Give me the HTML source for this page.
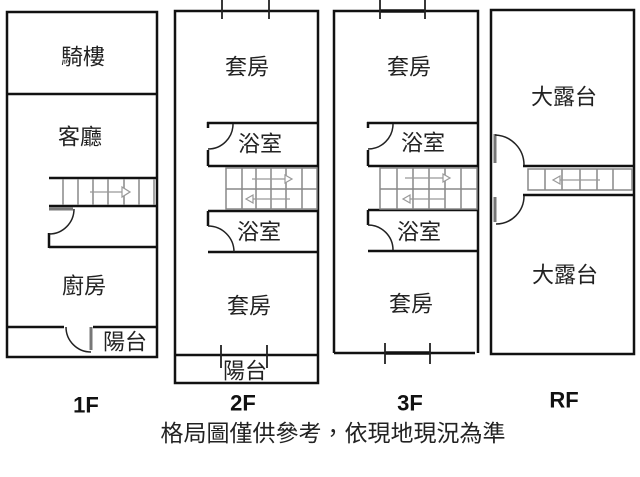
<!DOCTYPE html>
<html><head><meta charset="utf-8"><style>
html,body{margin:0;padding:0;background:#fff;}
svg{display:block;}
.t{font-family:"Liberation Sans","Noto Sans CJK TC",sans-serif;font-size:22px;fill:#222;}
.b{font-family:"Liberation Sans",sans-serif;font-weight:bold;font-size:22px;fill:#111;}
.c{font-family:"Liberation Sans","Noto Sans CJK TC",sans-serif;font-size:23px;fill:#222;}
</style></head><body>
<svg width="640" height="477" viewBox="0 0 640 477" xmlns="http://www.w3.org/2000/svg">
<g fill="none" stroke="#111" stroke-width="2.5">
<!-- 1F -->
<rect x="7" y="12" width="150" height="345"/>
<line x1="7" y1="94" x2="157" y2="94"/>
<line x1="49" y1="178" x2="157" y2="178"/>
<line x1="49" y1="206" x2="157" y2="206"/>
<line x1="49" y1="233" x2="49" y2="248"/>
<line x1="49" y1="247" x2="157" y2="247"/>
<line x1="7" y1="327" x2="64" y2="327"/>
<line x1="93" y1="327" x2="157" y2="327"/>
<!-- 2F -->
<rect x="175" y="11" width="143" height="372"/>
<line x1="175" y1="355" x2="318" y2="355"/>
<line x1="207" y1="123" x2="318" y2="123"/>
<line x1="208" y1="122" x2="208" y2="128"/>
<line x1="208" y1="150" x2="208" y2="166"/>
<line x1="208" y1="166" x2="318" y2="166"/>
<line x1="208" y1="211" x2="318" y2="211"/>
<line x1="208" y1="211" x2="208" y2="226"/>
<line x1="208" y1="252" x2="318" y2="252"/>
<!-- 3F -->
<polyline points="334,353 334,11 478,11 478,353"/>
<line x1="334" y1="353" x2="475" y2="353"/>
<line x1="367" y1="123" x2="478" y2="123"/>
<line x1="368" y1="122" x2="368" y2="128"/>
<line x1="368" y1="150" x2="368" y2="166"/>
<line x1="368" y1="166" x2="478" y2="166"/>
<line x1="368" y1="210" x2="478" y2="210"/>
<line x1="368" y1="210" x2="368" y2="225"/>
<line x1="368" y1="251" x2="478" y2="251"/>
<!-- RF -->
<rect x="491" y="10" width="143" height="344"/>
<line x1="523" y1="166" x2="634" y2="166"/>
<line x1="523" y1="195" x2="634" y2="195"/>
</g>
<!-- thick window segments -->
<g stroke="#111" stroke-width="3.5">
<line x1="380" y1="11" x2="425" y2="11"/>
<line x1="385" y1="353" x2="430" y2="353"/>
</g>
<!-- window ticks -->
<g stroke="#222" stroke-width="1.8">
<line x1="222" y1="0" x2="222" y2="19"/><line x1="269" y1="0" x2="269" y2="19"/>
<line x1="380" y1="0" x2="380" y2="19"/><line x1="425" y1="0" x2="425" y2="19"/>
<line x1="221" y1="345" x2="221" y2="368"/><line x1="267" y1="345" x2="267" y2="368"/>
<line x1="385" y1="343" x2="385" y2="364"/><line x1="430" y1="343" x2="430" y2="364"/>
</g>
<!-- door leaves (gray) -->
<g stroke="#777" stroke-width="3">
<line x1="49" y1="209" x2="73" y2="209"/>
<line x1="91" y1="327" x2="91" y2="350"/>
<line x1="495" y1="134" x2="495" y2="163"/>
<line x1="495" y1="197" x2="495" y2="222"/>
</g>
<!-- door arcs -->
<g fill="none" stroke="#222" stroke-width="1.5">
<path d="M74,209 A25,25 0 0 1 49,234"/>
<path d="M66,327 A25,25 0 0 0 91,352"/>
<path d="M233,124 A25,25 0 0 1 208,149"/>
<path d="M208,226 A26,26 0 0 1 234,252"/>
<path d="M393,124 A25,25 0 0 1 368,149"/>
<path d="M368,225 A25,25 0 0 1 393,250"/>
<path d="M495,135 A30,30 0 0 1 524,165"/>
<path d="M524,196 A28,28 0 0 1 496,224"/>
</g>
<!-- stairs -->
<g fill="none" stroke="#888" stroke-width="1.5">
<!-- 1F -->
<line x1="63" y1="179" x2="63" y2="205"/><line x1="78" y1="179" x2="78" y2="205"/>
<line x1="93" y1="179" x2="93" y2="205"/><line x1="108" y1="179" x2="108" y2="205"/>
<line x1="124" y1="179" x2="124" y2="205"/><line x1="139" y1="179" x2="139" y2="205"/>
<line x1="154" y1="179" x2="154" y2="205"/>
<!-- 2F -->
<rect x="226" y="168" width="91" height="41"/>
<line x1="226" y1="189" x2="317" y2="189"/>
<line x1="242" y1="168" x2="242" y2="209"/><line x1="256" y1="168" x2="256" y2="209"/>
<line x1="271" y1="168" x2="271" y2="209"/><line x1="286" y1="168" x2="286" y2="209"/>
<line x1="302" y1="168" x2="302" y2="209"/>
<!-- 3F -->
<rect x="380" y="168" width="97" height="41"/>
<line x1="380" y1="189" x2="477" y2="189"/>
<line x1="397" y1="168" x2="397" y2="209"/><line x1="413" y1="168" x2="413" y2="209"/>
<line x1="429" y1="168" x2="429" y2="209"/><line x1="445" y1="168" x2="445" y2="209"/>
<line x1="461" y1="168" x2="461" y2="209"/>
<!-- RF -->
<rect x="528" y="169" width="104" height="21"/>
<line x1="545" y1="169" x2="545" y2="190"/><line x1="562" y1="169" x2="562" y2="190"/>
<line x1="580" y1="169" x2="580" y2="190"/><line x1="597" y1="169" x2="597" y2="190"/>
<line x1="613" y1="169" x2="613" y2="190"/>
</g>
<!-- arrows -->
<g fill="#fff" stroke="#999" stroke-width="1.2">
<line x1="90" y1="192" x2="122" y2="192"/><path d="M122,187 L130,192 L122,197 Z"/>
<line x1="252" y1="179" x2="285" y2="179"/><path d="M285,175 L292,179 L285,183 Z"/>
<line x1="253" y1="199" x2="290" y2="199"/><path d="M253,195 L246,199 L253,203 Z"/>
<line x1="405" y1="178" x2="443" y2="178"/><path d="M443,174 L450,178 L443,182 Z"/>
<line x1="410" y1="199" x2="445" y2="199"/><path d="M410,195 L403,199 L410,203 Z"/>
<line x1="560" y1="180" x2="600" y2="180"/><path d="M560,176 L553,180 L560,184 Z"/>
</g>
<!-- room labels -->
<g class="t" text-anchor="middle" dominant-baseline="central">
<text x="83" y="57">騎樓</text>
<text x="80" y="137">客廳</text>
<text x="84" y="286">廚房</text>
<text x="125" y="342">陽台</text>
<text x="247" y="67">套房</text>
<text x="260" y="144">浴室</text>
<text x="259" y="232">浴室</text>
<text x="249" y="306">套房</text>
<text x="245" y="371">陽台</text>
<text x="409" y="67">套房</text>
<text x="423" y="143">浴室</text>
<text x="419" y="232">浴室</text>
<text x="411" y="304">套房</text>
<text x="564" y="97">大露台</text>
<text x="565" y="275">大露台</text>
</g>
<g class="b" text-anchor="middle" dominant-baseline="central">
<text x="86" y="405">1F</text>
<text x="243" y="403">2F</text>
<text x="410" y="403">3F</text>
<text x="564" y="400">RF</text>
</g>
<text class="c" x="333" y="433" text-anchor="middle" dominant-baseline="central">格局圖僅供參考，依現地現況為準</text>
</svg>
</body></html>
